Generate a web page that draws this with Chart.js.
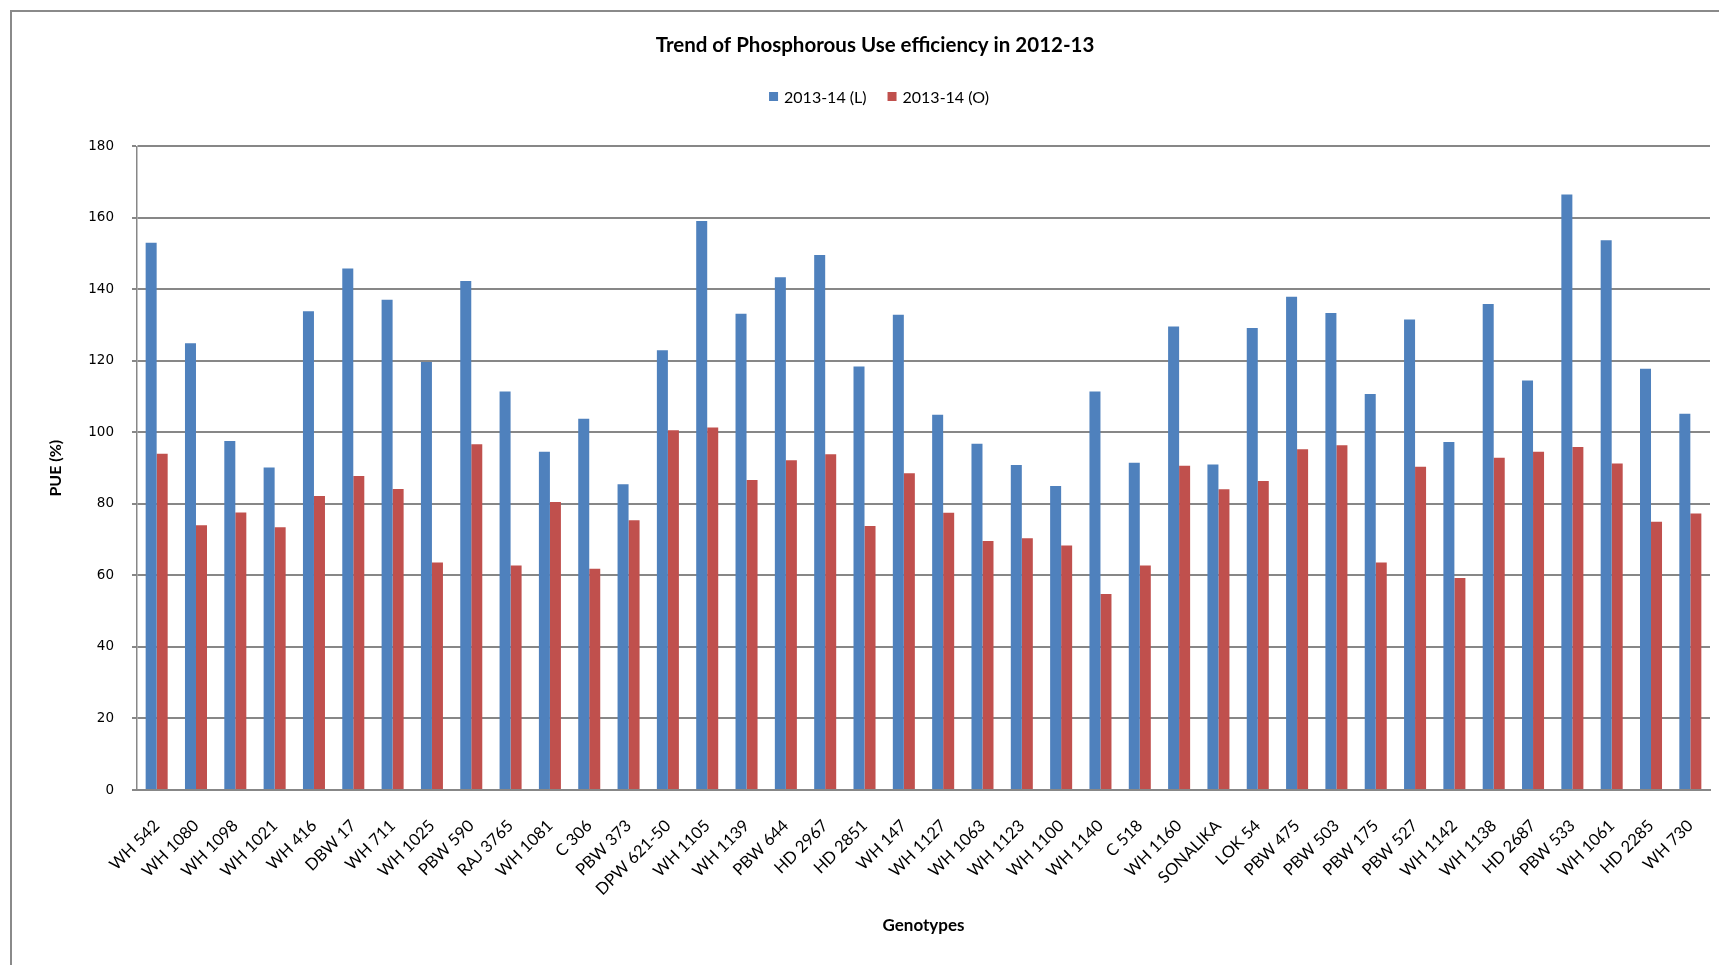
<!DOCTYPE html>
<html>
<head>
<meta charset="utf-8">
<title>Trend of Phosphorous Use efficiency in 2012-13</title>
<script src="https://cdn.jsdelivr.net/npm/chart.js@4.4.1/dist/chart.umd.min.js"></script>
<style>
  html, body { margin: 0; padding: 0; background: #ffffff; }
  #wrap { width: 1719px; height: 965px; }
</style>
</head>
<body>
<div id="wrap"><canvas id="pue" width="1719" height="965"></canvas></div>
<script>
// Wheat genotypes on the category axis
const genotypes = [
  'WH 542', 'WH 1080', 'WH 1098', 'WH 1021', 'WH 416', 'DBW 17', 'WH 711', 'WH 1025',
  'PBW 590', 'RAJ 3765', 'WH 1081', 'C 306', 'PBW 373', 'DPW 621-50', 'WH 1105', 'WH 1139',
  'PBW 644', 'HD 2967', 'HD 2851', 'WH 147', 'WH 1127', 'WH 1063', 'WH 1123', 'WH 1100',
  'WH 1140', 'C 518', 'WH 1160', 'SONALIKA', 'LOK 54', 'PBW 475', 'PBW 503', 'PBW 175',
  'PBW 527', 'WH 1142', 'WH 1138', 'HD 2687', 'PBW 533', 'WH 1061', 'HD 2285', 'WH 730'
];

// Phosphorous use efficiency (%), first series
const pueL = [
  153.0, 124.9, 97.6, 90.2, 133.9, 145.8, 137.1, 119.7,
  142.3, 111.4, 94.6, 103.8, 85.5, 123.0, 159.1, 133.2,
  143.4, 149.6, 118.4, 132.9, 104.9, 96.8, 90.9, 85.0,
  111.4, 91.5, 129.6, 91.0, 129.2, 137.9, 133.4, 110.7,
  131.6, 97.3, 135.9, 114.5, 166.5, 153.7, 117.8, 105.2
];

// Phosphorous use efficiency (%), second series
const pueO = [
  94.0, 74.0, 77.6, 73.5, 82.2, 87.8, 84.2, 63.6,
  96.7, 62.8, 80.5, 61.9, 75.4, 100.6, 101.4, 86.7,
  92.2, 93.9, 73.8, 88.6, 77.5, 69.6, 70.4, 68.4,
  54.8, 62.8, 90.7, 84.1, 86.4, 95.3, 96.4, 63.6,
  90.4, 59.3, 92.9, 94.6, 95.9, 91.3, 75.0, 77.3
];

const seriesNames = ['2013-14 (L)', '2013-14 (O)'];
const yTicks = [0, 20, 40, 60, 80, 100, 120, 140, 160, 180];

const chartTitle = 'Trend of Phosphorous Use efficiency in 2012-13';
const xTitle = 'Genotypes';
const yTitle = 'PUE (%)';

const BLUE = '#4F81BD';
const RED = '#C0504D';
const GRID = '#878787';
const LABEL_FONT = 'Lato, "Open Sans", "Liberation Sans", sans-serif';

// White page with the grey frame along the top and left edge
const framePlugin = {
  id: 'frame',
  beforeDraw(chart) {
    const ctx = chart.ctx;
    ctx.save();
    ctx.fillStyle = '#ffffff';
    ctx.fillRect(0, 0, chart.width, chart.height);
    ctx.strokeStyle = '#8a8a8a';
    ctx.lineWidth = 2;
    ctx.beginPath();
    ctx.moveTo(11, chart.height);
    ctx.lineTo(11, 11);
    ctx.lineTo(chart.width, 11);
    ctx.stroke();
    ctx.restore();
  }
};

// Horizontal legend row under the title, built from the datasets
const legendRow = {
  id: 'legendRow',
  afterDraw(chart, args, opts) {
    const ctx = chart.ctx;
    const ds = chart.data.datasets;
    ctx.save();
    ctx.font = opts.font;
    ctx.textBaseline = 'middle';
    const box = opts.box, gapText = opts.gapText, gapItem = opts.gapItem;
    const widths = ds.map(d => box + gapText + ctx.measureText(d.label).width);
    const total = widths.reduce((a, b) => a + b, 0) + gapItem * (ds.length - 1);
    let x = opts.centerX - total / 2;
    const y = opts.y;
    ds.forEach((d, i) => {
      ctx.fillStyle = d.backgroundColor;
      ctx.fillRect(x, y - box / 2, box, box);
      ctx.fillStyle = '#000000';
      ctx.textAlign = 'left';
      ctx.fillText(d.label, x + box + gapText, y + 1);
      x += widths[i] + gapItem;
    });
    ctx.restore();
  }
};

new Chart(document.getElementById('pue'), {
  type: 'bar',
  data: {
    labels: genotypes,
    datasets: [
      { label: seriesNames[0], data: pueL, backgroundColor: BLUE, borderWidth: 0 },
      { label: seriesNames[1], data: pueO, backgroundColor: RED, borderWidth: 0 }
    ]
  },
  options: {
    responsive: false,
    animation: false,
    devicePixelRatio: 1,
    layout: { padding: { left: 40, right: 9, top: 0, bottom: 0 } },
    datasets: { bar: { categoryPercentage: 0.56, barPercentage: 1.0 } },
    plugins: {
      legend: { display: false },
      tooltip: { enabled: false },
      title: {
        display: true,
        text: chartTitle,
        color: '#000000',
        font: { family: LABEL_FONT, size: 20.5, weight: 'bold', lineHeight: 1.2 },
        padding: { top: 32.7, bottom: 89 }
      },
      legendRow: {
        font: '16px ' + LABEL_FONT,
        box: 9, gapText: 6, gapItem: 21,
        centerX: 879, y: 96.5
      }
    },
    scales: {
      x: {
        grid: { display: false, drawTicks: false },
        border: { display: true, color: GRID, width: 2 },
        ticks: {
          autoSkip: false,
          minRotation: 45,
          maxRotation: 45,
          padding: 26,
          color: '#000000',
          font: { family: LABEL_FONT, size: 16.5 }
        },
        title: {
          display: true,
          text: xTitle,
          color: '#000000',
          font: { family: LABEL_FONT, size: 17, weight: 'bold', lineHeight: 1.2 },
          padding: { top: 0, bottom: 28.8 }
        },
        afterFit(scale) {
          // fixed band below the plot; rotated labels must not squeeze the plot width
          scale.height = 175;
          scale.paddingLeft = 0;
          scale.paddingRight = 0;
        }
      },
      y: {
        min: 0,
        max: 180,
        afterBuildTicks(scale) { scale.ticks = yTicks.map(v => ({ value: v })); },
        grid: { color: GRID, lineWidth: 2, tickLength: 5, drawTicks: true },
        border: { display: true, color: GRID, width: 1.5 },
        ticks: {
          padding: 18,
          color: '#000000',
          font: { family: '"DejaVu Sans", Verdana, sans-serif', size: 13.5 }
        },
        title: {
          display: true,
          text: yTitle,
          color: '#000000',
          font: { family: LABEL_FONT, size: 16, weight: 'bold', lineHeight: 1.2 },
          padding: { top: 6.4, bottom: 0 }
        },
        afterFit(scale) { scale.width = 97; }
      }
    }
  },
  plugins: [framePlugin, legendRow]
});
</script>
</body>
</html>
